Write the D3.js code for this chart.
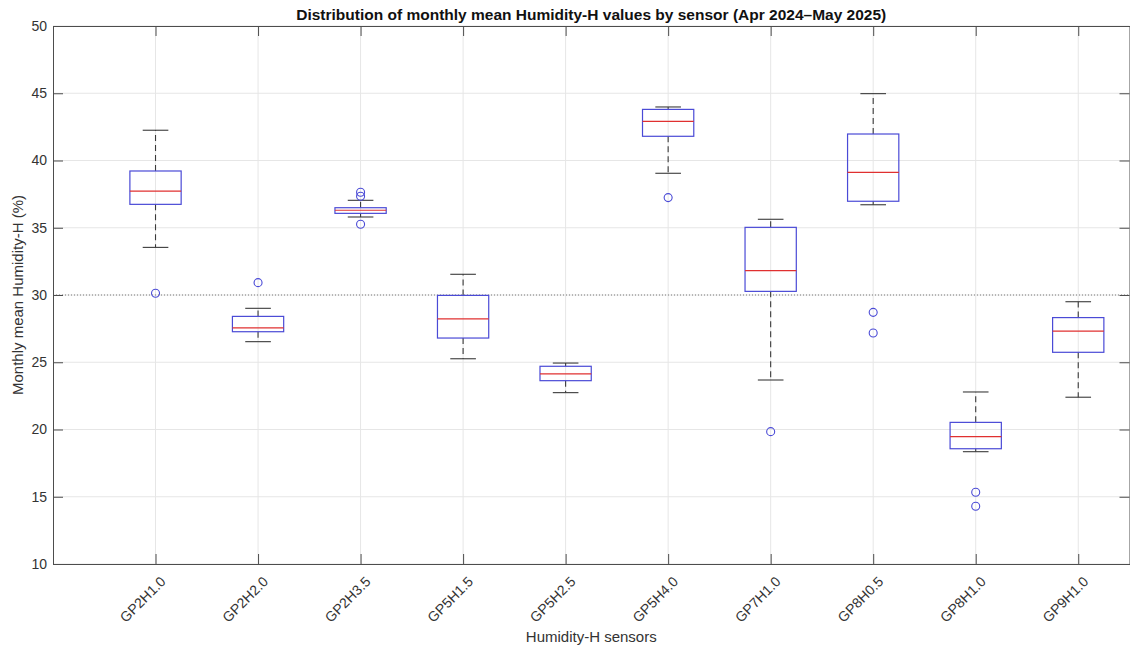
<!DOCTYPE html>
<html>
<head>
<meta charset="utf-8">
<script src="https://cdn.jsdelivr.net/npm/d3@7"></script>
<style>
  html, body { margin: 0; padding: 0; background: #fff; }
  svg { display: block; font-family: "Liberation Sans", Arial, Helvetica, sans-serif; }
</style>
</head>
<body>
<svg id="chart" width="1130" height="648"></svg>
<script>
// Sensor names along the x axis
const sensors = ["GP2H1.0", "GP2H2.0", "GP2H3.5", "GP5H1.5", "GP5H2.5",
                 "GP5H4.0", "GP7H1.0", "GP8H0.5", "GP8H1.0", "GP9H1.0"];

// Box-plot summary per sensor (monthly mean Humidity-H, %)
const whiskerLow  = [33.54, 26.53, 35.80, 25.26, 22.74, 39.05, 23.68, 36.71, 18.35, 22.40];
const q1          = [36.74, 27.27, 36.07, 26.80, 23.63, 41.80, 30.27, 36.97, 18.57, 25.74];
const median      = [37.73, 27.55, 36.30, 28.22, 24.13, 42.91, 31.81, 39.12, 19.47, 27.32];
const q3          = [39.22, 28.41, 36.49, 29.97, 24.70, 43.80, 35.03, 41.97, 20.53, 28.32];
const whiskerHigh = [42.25, 29.01, 37.04, 31.54, 24.94, 43.98, 35.63, 44.97, 22.79, 29.50];
const outliers    = [[30.13], [30.92], [37.64, 37.34, 35.26], [], [],
                     [37.24], [19.84], [28.71, 27.17], [15.33, 14.29], []];

// Reference level drawn as a dotted line
const referenceLevel = 30;

// Axis ticks
const yTicks = [10, 15, 20, 25, 30, 35, 40, 45, 50];

const titleText = "Distribution of monthly mean Humidity-H values by sensor (Apr 2024\u2013May 2025)";
const xLabel = "Humidity-H sensors";
const yLabel = "Monthly mean Humidity-H (%)";

const plot = { left: 53, right: 1129.5, top: 26, bottom: 564 };

const svg = d3.select("#chart");

const x = d3.scaleLinear().domain([0, sensors.length + 0.5]).range([plot.left, plot.right]);
const y = d3.scaleLinear().domain([10, 50]).range([plot.bottom, plot.top]);
const xPos = i => x(i + 1);
const unit = x(1) - x(0);
const boxHalf = unit * 0.25;
const capHalf = unit * 0.125;

const axisColor = "#4d4d4d";
const textColor = "#333333";
const boxColor = "#4a4ad6";
const medColor = "#e03030";
const whiskerColor = "#3a3a3a";

// Grid
const grid = svg.append("g");
grid.selectAll("line.hy").data(yTicks).join("line")
  .attr("x1", plot.left).attr("x2", plot.right)
  .attr("y1", d => y(d)).attr("y2", d => y(d))
  .attr("stroke", "#e6e6e6").attr("stroke-width", 1);
grid.selectAll("line.vx").data(sensors).join("line")
  .attr("x1", (d, i) => xPos(i)).attr("x2", (d, i) => xPos(i))
  .attr("y1", plot.top).attr("y2", plot.bottom)
  .attr("stroke", "#e6e6e6").attr("stroke-width", 1);

// Dotted reference line
svg.append("line")
  .attr("x1", plot.left).attr("x2", plot.right)
  .attr("y1", y(referenceLevel)).attr("y2", y(referenceLevel))
  .attr("stroke", "#7a7a7a").attr("stroke-width", 1).attr("stroke-dasharray", "1,2");

// Axes with inward ticks on all four sides
const xAxisTicks = d3.range(1, sensors.length + 1);
const fmtX = v => sensors[v - 1];

const yLeft = svg.append("g").attr("transform", `translate(${plot.left},0)`)
  .call(d3.axisLeft(y).tickValues(yTicks).tickSizeInner(-10).tickSizeOuter(0).tickPadding(6));
const yRight = svg.append("g").attr("transform", `translate(${plot.right},0)`)
  .call(d3.axisRight(y).tickValues(yTicks).tickSizeInner(-10).tickSizeOuter(0).tickFormat(""));
const xBottom = svg.append("g").attr("transform", `translate(0,${plot.bottom})`)
  .call(d3.axisBottom(x).tickValues(xAxisTicks).tickFormat(fmtX).tickSizeInner(-10).tickSizeOuter(0));
const xTop = svg.append("g").attr("transform", `translate(0,${plot.top})`)
  .call(d3.axisTop(x).tickValues(xAxisTicks).tickFormat("").tickSizeInner(-10).tickSizeOuter(0));

[yLeft, yRight, xBottom, xTop].forEach(g => {
  g.select(".domain").attr("stroke", axisColor).attr("stroke-width", 1);
  g.selectAll(".tick line").attr("stroke", axisColor).attr("stroke-width", 1);
  g.selectAll(".tick text").attr("fill", textColor).style("font-size", "14px")
    .style("font-family", "'Liberation Sans', Arial, sans-serif");
});

// Rotated sensor labels
xBottom.selectAll(".tick text")
  .attr("text-anchor", "end")
  .attr("dy", "0.35em")
  .attr("transform", "translate(7,15) rotate(-45)")
  .attr("y", 0).attr("x", 0);

// Boxes
const boxes = svg.append("g").selectAll("g.box").data(sensors).join("g");

// whiskers (dashed)
boxes.append("line")
  .attr("x1", (d, i) => xPos(i)).attr("x2", (d, i) => xPos(i))
  .attr("y1", (d, i) => y(q3[i])).attr("y2", (d, i) => y(whiskerHigh[i]))
  .attr("stroke", whiskerColor).attr("stroke-width", 1.1).attr("stroke-dasharray", "6,4");
boxes.append("line")
  .attr("x1", (d, i) => xPos(i)).attr("x2", (d, i) => xPos(i))
  .attr("y1", (d, i) => y(q1[i])).attr("y2", (d, i) => y(whiskerLow[i]))
  .attr("stroke", whiskerColor).attr("stroke-width", 1.1).attr("stroke-dasharray", "6,4");

// caps
boxes.append("line")
  .attr("x1", (d, i) => xPos(i) - capHalf).attr("x2", (d, i) => xPos(i) + capHalf)
  .attr("y1", (d, i) => y(whiskerHigh[i])).attr("y2", (d, i) => y(whiskerHigh[i]))
  .attr("stroke", whiskerColor).attr("stroke-width", 1.1);
boxes.append("line")
  .attr("x1", (d, i) => xPos(i) - capHalf).attr("x2", (d, i) => xPos(i) + capHalf)
  .attr("y1", (d, i) => y(whiskerLow[i])).attr("y2", (d, i) => y(whiskerLow[i]))
  .attr("stroke", whiskerColor).attr("stroke-width", 1.1);

// box body
boxes.append("rect")
  .attr("x", (d, i) => xPos(i) - boxHalf)
  .attr("width", boxHalf * 2)
  .attr("y", (d, i) => y(q3[i]))
  .attr("height", (d, i) => y(q1[i]) - y(q3[i]))
  .attr("fill", "none").attr("stroke", boxColor).attr("stroke-width", 1.2);

// median
boxes.append("line")
  .attr("x1", (d, i) => xPos(i) - boxHalf).attr("x2", (d, i) => xPos(i) + boxHalf)
  .attr("y1", (d, i) => y(median[i])).attr("y2", (d, i) => y(median[i]))
  .attr("stroke", medColor).attr("stroke-width", 1.2);

// outliers
boxes.each(function (d, i) {
  d3.select(this).selectAll("circle").data(outliers[i]).join("circle")
    .attr("cx", xPos(i)).attr("cy", v => y(v)).attr("r", 4)
    .attr("fill", "none").attr("stroke", boxColor).attr("stroke-width", 1.1);
});

// Title and axis labels
svg.append("text")
  .attr("x", (plot.left + plot.right) / 2).attr("y", 20)
  .attr("text-anchor", "middle").attr("fill", "#111")
  .style("font-size", "15.5px").style("font-weight", "bold")
  .text(titleText);

svg.append("text")
  .attr("x", (plot.left + plot.right) / 2).attr("y", 642)
  .attr("text-anchor", "middle").attr("fill", textColor)
  .style("font-size", "15px")
  .text(xLabel);

svg.append("text")
  .attr("transform", `translate(23,${(plot.top + plot.bottom) / 2}) rotate(-90)`)
  .attr("text-anchor", "middle").attr("fill", textColor)
  .style("font-size", "15px")
  .text(yLabel);
</script>
</body>
</html>
